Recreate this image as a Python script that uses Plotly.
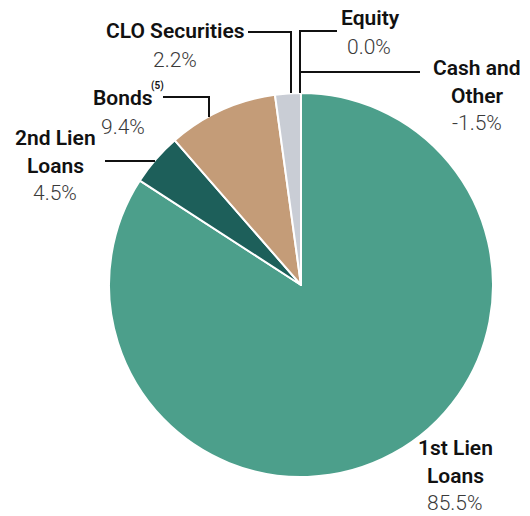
import plotly.graph_objects as go

W, H = 530, 516

categories = ["1st Lien Loans", "2nd Lien Loans", "Bonds", "CLO Securities", "Equity", "Cash and Other"]
values = [85.5, 4.5, 9.4, 2.2, 0.0, -1.5]
colors = ["#4c9f8b", "#1d5f5a", "#c49c78", "#c9cdd5", "#9aa0aa", "#777777"]
pct_labels = ["85.5%", "4.5%", "9.4%", "2.2%", "0.0%", "-1.5%"]

# only positive shares are drawn as slices
pie_labels = [c for c, v in zip(categories, values) if v > 0]
pie_values = [v for v in values if v > 0]
pie_colors = [col for col, v in zip(colors, values) if v > 0]

def px(x):
    return x / W

def py(y):
    return 1 - y / H

fig = go.Figure()
fig.add_trace(go.Pie(
    labels=pie_labels,
    values=pie_values,
    sort=False,
    direction="clockwise",
    rotation=0,
    marker=dict(colors=pie_colors, line=dict(color="white", width=2)),
    textinfo="none",
    hoverinfo="label+value",
    showlegend=False,
    domain=dict(x=[px(109), px(493)], y=[py(477), py(93)]),
))

BOLD = dict(family="Roboto, sans-serif", size=21, color="#111111", weight=600)
LIGHT = dict(family="Roboto, sans-serif", size=21, color="#3a3a3a", weight=300)

# label placements (name lines, pct line) in pixel space
label_pos = {
    "1st Lien Loans": [("1st Lien", 455, 448), ("Loans", 455, 476), (None, 455, 503)],
    "2nd Lien Loans": [("2nd Lien", 55, 138), ("Loans", 55, 166), (None, 55, 193)],
    "Bonds": [("Bonds", 123, 98), (None, 123, 127)],
    "CLO Securities": [("CLO Securities", 175, 31), (None, 175, 60)],
    "Equity": [("Equity", 370, 18), (None, 369, 47)],
    "Cash and Other": [("Cash and", 477, 68), ("Other", 477, 96), (None, 477, 123)],
}

annotations = []
for cat, pct in zip(categories, pct_labels):
    for txt, x, y in label_pos[cat]:
        annotations.append(dict(
            x=px(x), y=py(y), xref="paper", yref="paper",
            text=(txt if txt is not None else pct),
            showarrow=False, xanchor="center", yanchor="middle",
            font=(BOLD if txt is not None else LIGHT),
        ))
annotations.append(dict(
    x=px(157), y=py(86), xref="paper", yref="paper", text="(5)",
    showarrow=False, xanchor="center", yanchor="middle",
    font=dict(family="Roboto, sans-serif", size=10, color="#111111", weight=600),
))

leader_lines = [
    [(248, 32), (291, 32), (291, 93)],
    [(337, 31), (300, 31), (300, 93)],
    [(420, 72), (300, 72)],
    [(163, 97), (209, 97), (209, 117)],
    [(105, 161), (155, 161)],
]
shapes = []
for pts in leader_lines:
    path = "M " + " L ".join(f"{px(x)},{py(y)}" for x, y in pts)
    shapes.append(dict(type="path", path=path, xref="paper", yref="paper",
                       line=dict(color="#111111", width=2)))

fig.update_layout(
    width=W, height=H,
    margin=dict(l=0, r=0, t=0, b=0),
    paper_bgcolor="white", plot_bgcolor="white",
    annotations=annotations,
    shapes=shapes,
)

fig.write_html("out.html", config={"displayModeBar": False},
               post_script="document.body.style.margin='0';document.body.style.padding='0';")
